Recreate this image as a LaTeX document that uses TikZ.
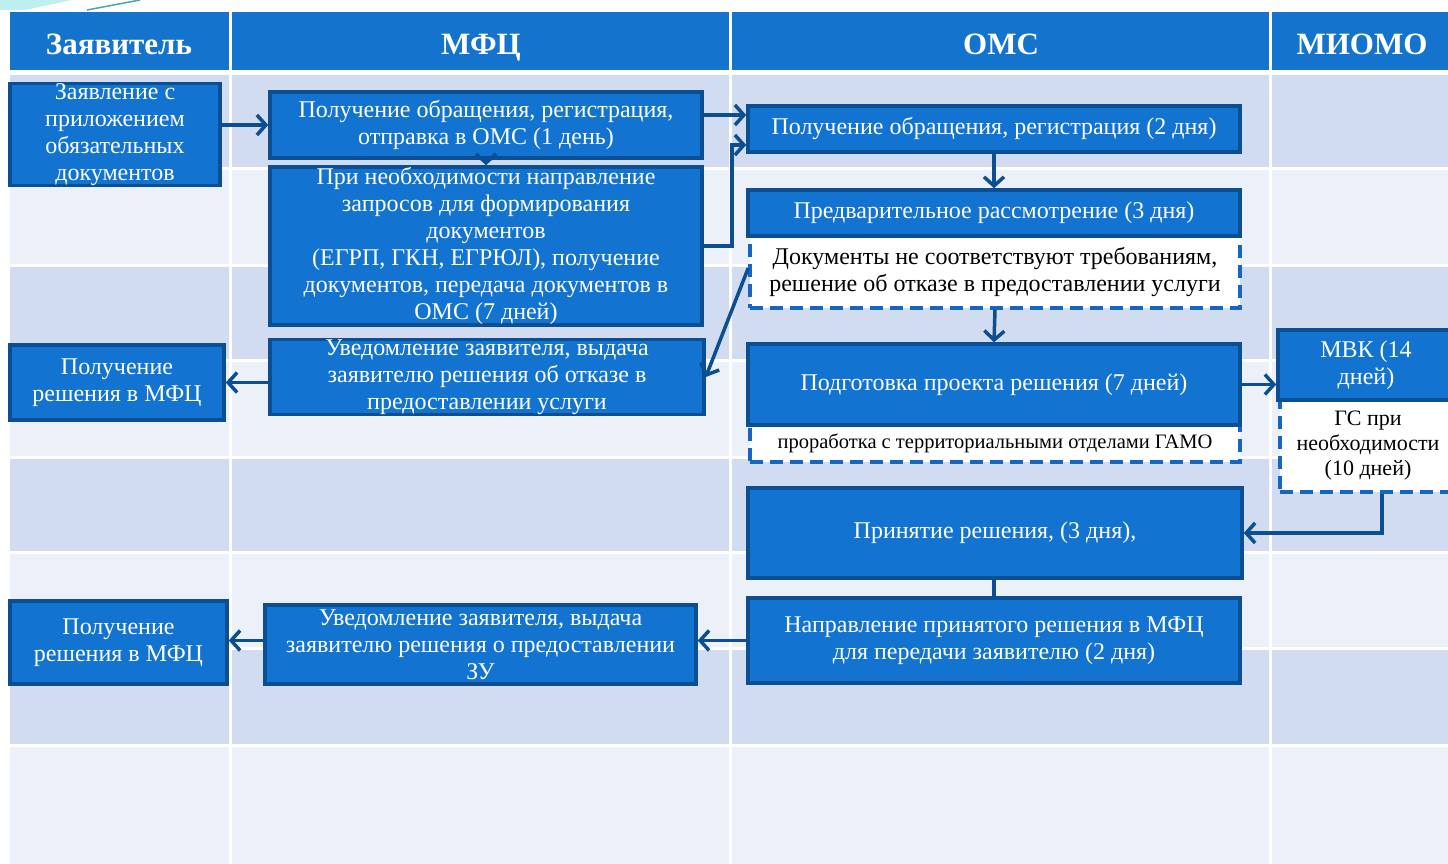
\documentclass[tikz,border=0pt]{standalone}
\usepackage{fontspec}
\setmainfont{Liberation Serif}
\usetikzlibrary{arrows.meta}

\definecolor{headblue}{HTML}{1473CC}
\definecolor{boxblue}{HTML}{1274D0}
\definecolor{boxedge}{HTML}{0B4E91}
\definecolor{dashblue}{HTML}{1466C2}
\definecolor{rowdark}{HTML}{D2DCF0}
\definecolor{rowlight}{HTML}{ECF0F9}
\definecolor{swoosh}{HTML}{BDEFF0}

\def\bs{\fontsize{24}{27}\selectfont}
\def\ss{\fontsize{20.5}{25}\selectfont}

\begin{document}
\begin{tikzpicture}[x=1pt, y=-1pt,
    proc/.style={draw=boxedge, fill=boxblue, line width=3.5pt, text=white, align=center, inner sep=0pt, font=\bs},
    note/.style={draw=dashblue, fill=white, line width=3.5pt, dash pattern=on 13pt off 7pt, align=center, inner sep=0pt, font=\bs},
    head/.style={anchor=base, text=white, font=\fontsize{31}{34}\selectfont\bfseries},
    arr/.style={draw=boxedge, line width=3.5pt, -{Straight Barb[length=9pt,width=20pt]}},
    line/.style={draw=boxedge, line width=3.5pt}]
      \useasboundingbox (0,0) rectangle (1448,864);
      \fill[white] (0,0) rectangle (1448,864);
      \fill[swoosh] (0,0) -- (72,0) -- (25,10) -- (0,10) -- cycle;
      \draw[teal!70, line width=1.5pt] (87,10) -- (140,0);
      \fill[headblue] (10,12) rectangle (1448,70);
      \foreach \ya/\yb/\c in {75/168/rowdark, 168/265/rowlight, 265/360/rowdark, 360/457/rowlight,
                              457/552/rowdark, 552/648/rowlight, 648/745/rowdark, 745/864/rowlight}
        \fill[\c] (10,\ya) rectangle (1448,\yb);
      \foreach \y in {168,265,360,457,552,648,745}
        \draw[white, line width=3pt] (10,\y) -- (1448,\y);
      \foreach \x in {230,730,1270}
        \draw[white, line width=3pt] (\x,12) -- (\x,864);
      \node[head] (hzayav) at (119,55) {Заявитель};
      \node[head] (hmfc) at (481,55) {МФЦ};
      \node[head] (homs) at (1001,55) {ОМС};
      \node[head] (hmiomo) at (1362,55) {МИОМО};
      \node[note, minimum width=490pt, minimum height=72pt] (nesoot) at (995,272) {Документы не соответствуют требованиям,\\решение об отказе в предоставлении услуги};
      \node[note, minimum width=490pt, minimum height=37pt, font=\ss] (prorab) at (995,443.5) {проработка с территориальными отделами ГАМО};
      \node[note, minimum width=176pt, minimum height=92pt, font=\fontsize{22}{25}\selectfont] (gs) at (1368,446) {ГС при\\необходимости\\(10 дней)};
      \node[proc, minimum width=210pt, minimum height=101pt] (zayav) at (115,134.5) {Заявление с\\приложением\\обязательных\\документов};
      \node[proc, minimum width=432pt, minimum height=66pt] (mfcrecv) at (486,125) {Получение обращения, регистрация,\\отправка в ОМС (1 день)};
      \node[proc, minimum width=432pt, minimum height=158pt] (mfcreq) at (486,246) {При необходимости направление\\запросов для формирования\\документов\\(ЕГРП, ГКН, ЕГРЮЛ), получение\\документов, передача документов в\\ОМС (7 дней)};
      \node[proc, minimum width=434pt, minimum height=74pt] (otkaz) at (487,377) {Уведомление заявителя, выдача\\заявителю решения об отказе в\\предоставлении услуги};
      \node[proc, minimum width=214pt, minimum height=75pt] (polrek) at (117,382.5) {Получение\\решения в МФЦ};
      \node[proc, minimum width=492pt, minimum height=46pt] (omsrecv) at (994,129) {Получение обращения, регистрация (2 дня)};
      \node[proc, minimum width=492pt, minimum height=46pt] (predv) at (994,213) {Предварительное рассмотрение (3 дня)};
      \node[proc, minimum width=492pt, minimum height=81pt] (podgot) at (994,384.5) {Подготовка проекта решения (7 дней)};
      \node[proc, minimum width=176pt, minimum height=70pt] (mvk) at (1366,365) {МВК (14\\дней)};
      \node[proc, minimum width=494pt, minimum height=90pt] (prinyat) at (995,533) {Принятие решения, (3 дня),};
      \node[proc, minimum width=492pt, minimum height=85pt] (napr) at (994,640.5) {Направление принятого решения в МФЦ\\для передачи заявителю (2 дня)};
      \node[proc, minimum width=431pt, minimum height=79pt] (uvedzu) at (480.5,644.5) {Уведомление заявителя, выдача\\заявителю решения о предоставлении\\ЗУ};
      \node[proc, minimum width=217pt, minimum height=83pt] (polresh) at (118.5,642.5) {Получение\\решения в МФЦ};
      \draw[arr] (zayav.east |- mfcrecv.west) -- (mfcrecv.west);
      \draw[arr] ([yshift=10pt]mfcrecv.east) -- ([yshift=10pt]mfcrecv.east -| omsrecv.west);
      \draw[arr] (mfcreq.east) -- ++(28,0) |- ([yshift=-16pt]omsrecv.west);
      \draw[arr] (mfcrecv.south) -- (mfcreq.north);
      \draw[arr] (omsrecv.south) -- (predv.north);
      \draw[arr] (nesoot.south) -- (podgot.north);
      \draw[arr] ([yshift=4pt]nesoot.west) -- (otkaz.east);
      \draw[arr] (otkaz.west |- polrek.east) -- (polrek.east);
      \draw[arr] (podgot.east) -- (podgot.east -| mvk.west);
      \draw[arr] ([xshift=14pt]gs.south) |- (prinyat.east);
      \draw[line] (prinyat.south -| napr.north) -- (napr.north);
      \draw[arr] (napr.west) -- (napr.west -| uvedzu.east);
      \draw[arr] ([yshift=4pt]uvedzu.west) -- ([yshift=4pt]uvedzu.west -| polresh.east);
\end{tikzpicture}
\end{document}
